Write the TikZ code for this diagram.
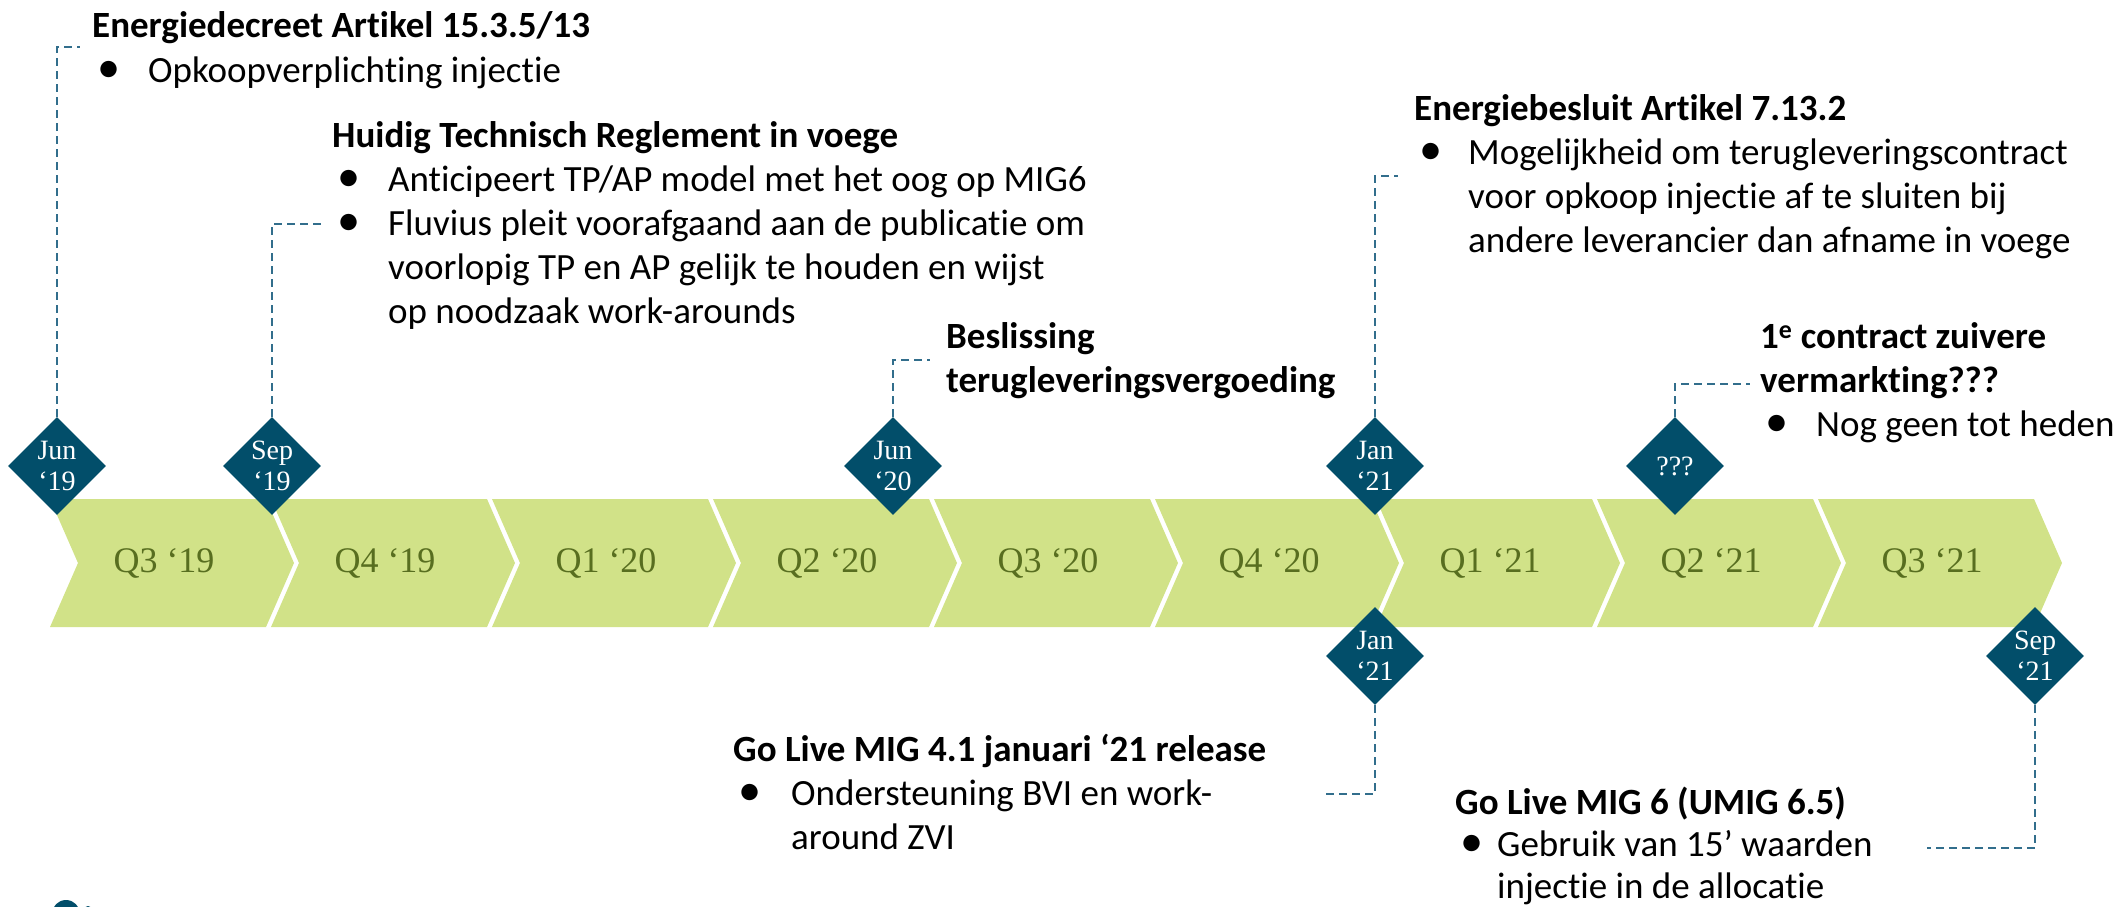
\documentclass[tikz,border=0pt]{standalone}
\usepackage{fontspec}
\setmainfont{Carlito}[Ligatures=NoCommon]
\newfontfamily\serifq{Liberation Serif}
\usetikzlibrary{shapes.geometric}
\definecolor{chev}{RGB}{209,226,136}
\definecolor{qtext}{RGB}{88,110,32}
\definecolor{diam}{RGB}{2,78,106}
\definecolor{conn}{RGB}{50,110,140}
\newcommand{\bul}{\hspace*{5pt}\scalebox{1.25}{\textbullet}}
\tikzset{
  chevfill/.style={fill=chev},
  qlabel/.style={font=\serifq\fontsize{36}{40}\selectfont, text=qtext, inner sep=0},
  milestone/.style={diamond, fill=diam, minimum width=98pt, minimum height=98pt, inner sep=0, aspect=1, text=white, align=center, font=\serifq\fontsize{28}{31}\selectfont},
  connline/.style={draw=conn, line width=1.6pt, dash pattern=on 8pt off 5pt},
  block/.style={anchor=base west, inner sep=0, font=\fontsize{37}{44}\selectfont},
}
\begin{document}
\begin{tikzpicture}[x=1pt,y=-1pt]
\path[use as bounding box] (0,0) rectangle (2128,907);
% chevrons
\foreach \i/\lab in {0/Q3 ‘19,1/Q4 ‘19,2/Q1 ‘20,3/Q2 ‘20,4/Q3 ‘20,5/Q4 ‘20,6/Q1 ‘21,7/Q2 ‘21,8/Q3 ‘21}{
  \pgfmathsetmacro{\xo}{50+221*\i}
  \fill[chevfill] (\xo,627) -- (\xo+28,563) -- (\xo,499) -- (\xo+216,499) -- (\xo+244,563) -- (\xo+216,627) -- cycle;
  \node[qlabel] (q\i) at (\xo+114,563) {\lab};
}
% milestones
\node[milestone] (d1) at (57,466) {Jun\\‘19};
\node[milestone] (d2) at (272,466) {Sep\\‘19};
\node[milestone] (d3) at (893,466) {Jun\\‘20};
\node[milestone] (d4) at (1375,466) {Jan\\‘21};
\node[milestone] (d5) at (1675,466) {???};
\node[milestone] (d6) at (1375,656) {Jan\\‘21};
\node[milestone] (d7) at (2035,656) {Sep\\‘21};
% text blocks
\node[block] (tA) at (92,38) {\begin{tabular}[t]{@{}p{56pt}@{}l@{}}
\multicolumn{2}{@{}l@{}}{\bfseries Energiedecreet Artikel 15.3.5/13}\\
\bul & Opkoopverplichting injectie
\end{tabular}};
\node[block] (tB) at (332,147) {\begin{tabular}[t]{@{}p{56pt}@{}l@{}}
\multicolumn{2}{@{}l@{}}{\bfseries Huidig Technisch Reglement in voege}\\
\bul & Anticipeert TP/AP model met het oog op MIG6\\
\bul & Fluvius pleit voorafgaand aan de publicatie om\\
 & voorlopig TP en AP gelijk te houden en wijst\\
 & op noodzaak work-arounds
\end{tabular}};
\node[block] (tC) at (946,348) {\begin{tabular}[t]{@{}l@{}}
\bfseries Beslissing\\
\bfseries terugleveringsvergoeding
\end{tabular}};
\node[block] (tD) at (1414,120) {\begin{tabular}[t]{@{}p{54pt}@{}l@{}}
\multicolumn{2}{@{}l@{}}{\bfseries Energiebesluit Artikel 7.13.2}\\
\bul & Mogelijkheid om terugleveringscontract\\
 & voor opkoop injectie af te sluiten bij\\
 & andere leverancier dan afname in voege
\end{tabular}};
\node[block] (tE) at (1760,348) {\begin{tabular}[t]{@{}p{56pt}@{}l@{}}
\multicolumn{2}{@{}l@{}}{\bfseries 1\textsuperscript{e} contract zuivere}\\
\multicolumn{2}{@{}l@{}}{\bfseries vermarkting???}\\
\bul & Nog geen tot heden
\end{tabular}};
\node[block] (tF) at (733,761) {\begin{tabular}[t]{@{}p{58pt}@{}l@{}}
\multicolumn{2}{@{}l@{}}{\bfseries Go Live MIG 4.1 januari ‘21 release}\\
\bul & Ondersteuning BVI en work-\\
 & around ZVI
\end{tabular}};
\node[block, font=\fontsize{37}{42}\selectfont] (tG) at (1455,814) {\begin{tabular}[t]{@{}p{42pt}@{}l@{}}
\multicolumn{2}{@{}l@{}}{\bfseries Go Live MIG 6 (UMIG 6.5)}\\
\bul & Gebruik van 15’ waarden\\
 & injectie in de allocatie
\end{tabular}};
% connectors
\coordinate (cA) at (80,47);
\coordinate (cB) at (326,224);
\coordinate (cC) at (930,360);
\coordinate (cD) at (1398,176);
\coordinate (cE) at (1750,384);
\coordinate (cF) at (1326,794);
\coordinate (cG) at (1927,848);
\draw[connline] (d1.north) |- (cA);
\draw[connline] (d2.north) |- (cB);
\draw[connline] (d3.north) |- (cC);
\draw[connline] (d4.north) |- (cD);
\draw[connline] (d5.north) |- (cE);
\draw[connline] (d6.south) |- (cF);
\draw[connline] (d7.south) |- (cG);
% partial logo at bottom edge
\fill[diam] (66,914) circle (14);
\fill[diam] (88,911) circle (5);
\end{tikzpicture}
\end{document}
